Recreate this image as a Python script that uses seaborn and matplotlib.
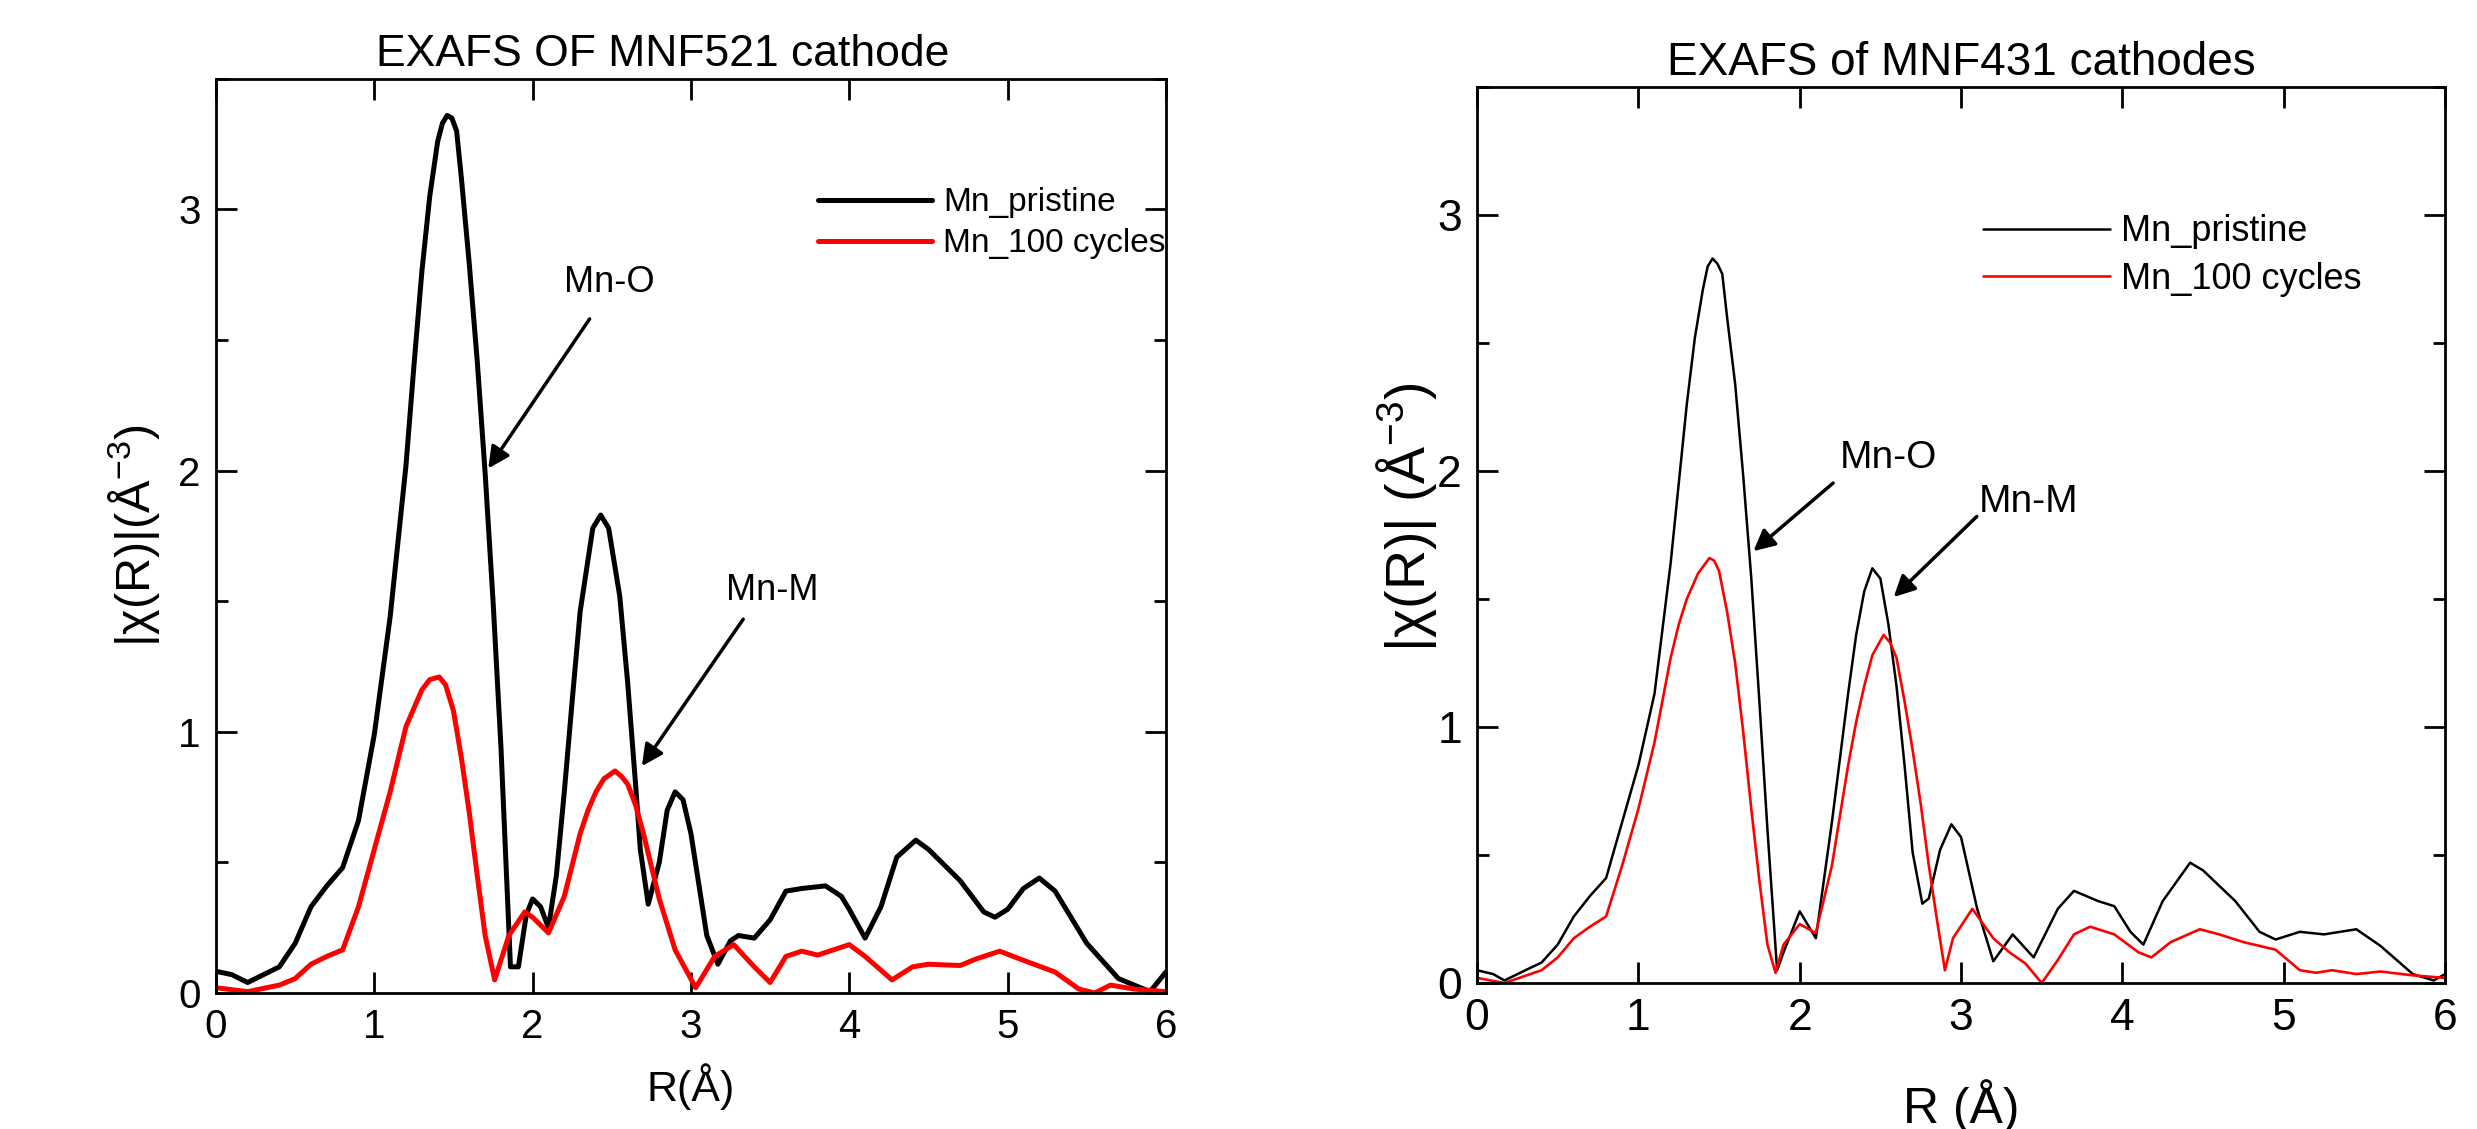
import matplotlib
matplotlib.use("Agg")
import matplotlib.pyplot as plt
import seaborn as sns
from matplotlib.ticker import MultipleLocator

# MNF521 cathode (left)
r_521_pristine = [0.00, 0.10, 0.20, 0.30, 0.40, 0.50, 0.60, 0.70, 0.80, 0.90, 1.00, 1.10, 1.20, 1.25,
                  1.30, 1.35, 1.40, 1.43, 1.46, 1.49, 1.52, 1.55, 1.60, 1.65, 1.70, 1.75, 1.80, 1.86,
                  1.91, 1.96, 2.00, 2.05, 2.10, 2.15, 2.20, 2.25, 2.30, 2.35, 2.38, 2.43, 2.48, 2.55,
                  2.60, 2.65, 2.68, 2.73, 2.80, 2.85, 2.90, 2.95, 3.00, 3.10, 3.17, 3.25, 3.30, 3.40,
                  3.50, 3.60, 3.70, 3.85, 3.95, 4.00, 4.10, 4.20, 4.30, 4.42, 4.50, 4.70, 4.85, 4.92,
                  5.00, 5.10, 5.20, 5.30, 5.50, 5.70, 5.90, 6.00]
chi_521_pristine = [0.083, 0.07, 0.04, 0.07, 0.10, 0.19, 0.33, 0.41, 0.48, 0.66, 0.99, 1.44, 2.02, 2.40,
                    2.76, 3.05, 3.26, 3.33, 3.36, 3.35, 3.30, 3.12, 2.79, 2.42, 1.99, 1.50, 0.94, 0.10,
                    0.10, 0.30, 0.36, 0.33, 0.25, 0.45, 0.77, 1.12, 1.46, 1.66, 1.78, 1.83, 1.78, 1.52,
                    1.19, 0.80, 0.55, 0.34, 0.50, 0.70, 0.77, 0.74, 0.61, 0.22, 0.11, 0.20, 0.22, 0.21,
                    0.28, 0.39, 0.40, 0.41, 0.37, 0.32, 0.21, 0.33, 0.52, 0.585, 0.55, 0.43, 0.31, 0.29,
                    0.32, 0.40, 0.44, 0.39, 0.19, 0.055, 0.005, 0.08]

r_521_cycled = [0.00, 0.20, 0.40, 0.50, 0.60, 0.70, 0.80, 0.90, 1.00, 1.10, 1.20, 1.30, 1.35, 1.41,
                1.45, 1.50, 1.55, 1.60, 1.65, 1.70, 1.76, 1.85, 1.95, 2.00, 2.10, 2.20, 2.30, 2.35,
                2.40, 2.45, 2.52, 2.56, 2.60, 2.65, 2.70, 2.80, 2.90, 3.03, 3.15, 3.27, 3.40, 3.50,
                3.60, 3.70, 3.80, 3.90, 4.00, 4.10, 4.27, 4.40, 4.50, 4.70, 4.80, 4.95, 5.10, 5.30,
                5.45, 5.55, 5.65, 5.80, 6.00]
chi_521_cycled = [0.02, 0.005, 0.03, 0.055, 0.11, 0.14, 0.165, 0.33, 0.55, 0.77, 1.02, 1.16, 1.20, 1.21,
                  1.18, 1.08, 0.90, 0.69, 0.45, 0.22, 0.05, 0.22, 0.31, 0.29, 0.23, 0.37, 0.61, 0.70,
                  0.77, 0.82, 0.85, 0.83, 0.80, 0.72, 0.61, 0.36, 0.165, 0.02, 0.14, 0.185, 0.10, 0.04,
                  0.14, 0.16, 0.145, 0.165, 0.185, 0.14, 0.05, 0.10, 0.11, 0.105, 0.13, 0.16, 0.125, 0.08,
                  0.015, 0.0, 0.03, 0.015, 0.005]

# MNF431 cathodes (right)
r_431_pristine = [0.00, 0.10, 0.17, 0.30, 0.40, 0.50, 0.60, 0.70, 0.80, 0.90, 1.00, 1.10, 1.20, 1.25,
                  1.30, 1.35, 1.40, 1.43, 1.46, 1.49, 1.52, 1.55, 1.60, 1.65, 1.70, 1.75, 1.80, 1.86,
                  1.90, 2.00, 2.10, 2.20, 2.25, 2.30, 2.35, 2.40, 2.45, 2.50, 2.55, 2.60, 2.65, 2.70,
                  2.76, 2.80, 2.87, 2.94, 3.00, 3.10, 3.20, 3.32, 3.45, 3.60, 3.70, 3.85, 3.95, 4.05,
                  4.13, 4.25, 4.42, 4.50, 4.70, 4.85, 4.95, 5.10, 5.25, 5.45, 5.60, 5.80, 5.93, 6.00]
chi_431_pristine = [0.05, 0.035, 0.01, 0.05, 0.08, 0.15, 0.26, 0.34, 0.41, 0.63, 0.85, 1.13, 1.64, 1.95,
                    2.26, 2.52, 2.71, 2.80, 2.83, 2.81, 2.77, 2.60, 2.34, 1.98, 1.58, 1.10, 0.60, 0.05,
                    0.12, 0.28, 0.175, 0.63, 0.88, 1.13, 1.36, 1.53, 1.62, 1.58, 1.40, 1.16, 0.85, 0.51,
                    0.31, 0.33, 0.52, 0.62, 0.57, 0.29, 0.085, 0.19, 0.10, 0.29, 0.36, 0.32, 0.30, 0.20,
                    0.15, 0.32, 0.47, 0.44, 0.32, 0.20, 0.17, 0.20, 0.19, 0.21, 0.145, 0.035, 0.01, 0.035]

r_431_cycled = [0.00, 0.17, 0.40, 0.50, 0.60, 0.70, 0.80, 0.90, 1.00, 1.10, 1.20, 1.25, 1.30, 1.37,
                1.44, 1.47, 1.50, 1.55, 1.60, 1.65, 1.70, 1.75, 1.80, 1.85, 1.90, 2.00, 2.10, 2.20,
                2.30, 2.35, 2.40, 2.45, 2.52, 2.56, 2.60, 2.65, 2.70, 2.75, 2.80, 2.85, 2.90, 2.95,
                3.07, 3.20, 3.30, 3.40, 3.50, 3.60, 3.70, 3.80, 3.95, 4.10, 4.18, 4.30, 4.48, 4.60,
                4.75, 4.95, 5.10, 5.20, 5.30, 5.45, 5.60, 5.80, 6.00]
chi_431_cycled = [0.02, 0.0, 0.05, 0.10, 0.175, 0.22, 0.26, 0.46, 0.68, 0.94, 1.27, 1.40, 1.50, 1.60,
                  1.66, 1.65, 1.61, 1.45, 1.25, 0.98, 0.68, 0.40, 0.15, 0.04, 0.15, 0.23, 0.195, 0.46,
                  0.85, 1.02, 1.16, 1.28, 1.36, 1.33, 1.27, 1.10, 0.91, 0.70, 0.46, 0.25, 0.05, 0.175,
                  0.29, 0.175, 0.12, 0.076, 0.0, 0.09, 0.19, 0.22, 0.19, 0.12, 0.10, 0.16, 0.21, 0.19,
                  0.16, 0.13, 0.05, 0.04, 0.05, 0.035, 0.045, 0.03, 0.02]

series_labels = ["Mn_pristine", "Mn_100 cycles"]
x_ticks = [0, 1, 2, 3, 4, 5, 6]
y_ticks = [0, 1, 2, 3]

sns.set_style("ticks")
plt.rcParams["font.family"] = ["Liberation Sans", "DejaVu Sans"]
plt.rcParams["mathtext.fontset"] = "custom"
plt.rcParams["mathtext.rm"] = "Liberation Sans"
plt.rcParams["mathtext.it"] = "Liberation Sans:italic"
for key in ["text.color", "axes.labelcolor", "xtick.color", "ytick.color", "axes.edgecolor"]:
    plt.rcParams[key] = "black"

fig = plt.figure(figsize=(24.77, 11.29), dpi=100)
ax1 = fig.add_axes([0.0872, 0.1205, 0.3835, 0.8096])
ax2 = fig.add_axes([0.5963, 0.1293, 0.3908, 0.7936])


def style_axes(ax, tick_fs, spine_w):
    ax.set_xlim(0, 6)
    ax.set_ylim(0, 3.5)
    ax.set_xticks(x_ticks)
    ax.set_yticks(y_ticks)
    ax.yaxis.set_minor_locator(MultipleLocator(0.5))
    ax.tick_params(which="both", direction="in", top=True, right=True, width=spine_w,
                   labelsize=tick_fs, pad=11)
    ax.tick_params(which="major", length=15)
    ax.tick_params(which="minor", length=8.5)
    for s in ax.spines.values():
        s.set_visible(True)
        s.set_linewidth(spine_w)
        s.set_color("black")


arrow1 = dict(arrowstyle="-|>", color="black", lw=2.5, mutation_scale=32)

# left panel
sns.lineplot(x=r_521_pristine, y=chi_521_pristine, ax=ax1, color="black", lw=3.6,
             label=series_labels[0], sort=False, solid_joinstyle="round")
sns.lineplot(x=r_521_cycled, y=chi_521_cycled, ax=ax1, color="#ff0000", lw=3.6,
             label=series_labels[1], sort=False, solid_joinstyle="round")
style_axes(ax1, 29, 2)
ax1.set_title("EXAFS OF MNF521 cathode", fontsize=32, x=0.47, pad=9)
ax1.set_xlabel("R(Å)", fontsize=31)
ax1.xaxis.set_label_coords(0.5, -0.103)
ax1.xaxis.label.set_va("center")
ax1.set_ylabel("|χ(R)|(Å$^{-3}$)", fontsize=35)
ax1.yaxis.set_label_coords(-0.086, 0.5)
ax1.yaxis.label.set_va("center")
ax1.legend(loc="center left", bbox_to_anchor=(0.634, 0.842), frameon=False, fontsize=24,
           handlelength=3.4, handletextpad=0.35, borderpad=0, borderaxespad=0, labelspacing=0.3)
ax1.annotate("Mn-O", xy=(2.20, 2.72), fontsize=26, va="center")
ax1.annotate("", xy=(1.71, 2.00), xytext=(2.37, 2.59), arrowprops=arrow1)
ax1.annotate("Mn-M", xy=(3.22, 1.54), fontsize=26, va="center")
ax1.annotate("", xy=(2.68, 0.86), xytext=(3.34, 1.44), arrowprops=arrow1)

# right panel
sns.lineplot(x=r_431_pristine, y=chi_431_pristine, ax=ax2, color="black", lw=1.8,
             label=series_labels[0], sort=False, solid_joinstyle="round")
sns.lineplot(x=r_431_cycled, y=chi_431_cycled, ax=ax2, color="#ff0000", lw=1.9,
             label=series_labels[1], sort=False, solid_joinstyle="round")
style_axes(ax2, 32, 2)
ax2.set_title("EXAFS of MNF431 cathodes", fontsize=33, pad=9)
ax2.set_xlabel("R (Å)", fontsize=36)
ax2.xaxis.set_label_coords(0.5, -0.137)
ax2.xaxis.label.set_va("center")
ax2.set_ylabel("|χ(R)| (Å$^{-3}$)", fontsize=40)
ax2.yaxis.set_label_coords(-0.073, 0.52)
ax2.yaxis.label.set_va("center")
ax2.legend(loc="center left", bbox_to_anchor=(0.523, 0.812), frameon=False, fontsize=26,
           handlelength=3.5, handletextpad=0.3, borderpad=0, borderaxespad=0, labelspacing=0.35)
ax2.annotate("Mn-O", xy=(2.25, 2.05), fontsize=28, va="center")
ax2.annotate("", xy=(1.70, 1.68), xytext=(2.22, 1.96), arrowprops=arrow1)
ax2.annotate("Mn-M", xy=(3.11, 1.88), fontsize=28, va="center")
ax2.annotate("", xy=(2.57, 1.50), xytext=(3.11, 1.83), arrowprops=arrow1)

fig.savefig("out.png", dpi=100)
